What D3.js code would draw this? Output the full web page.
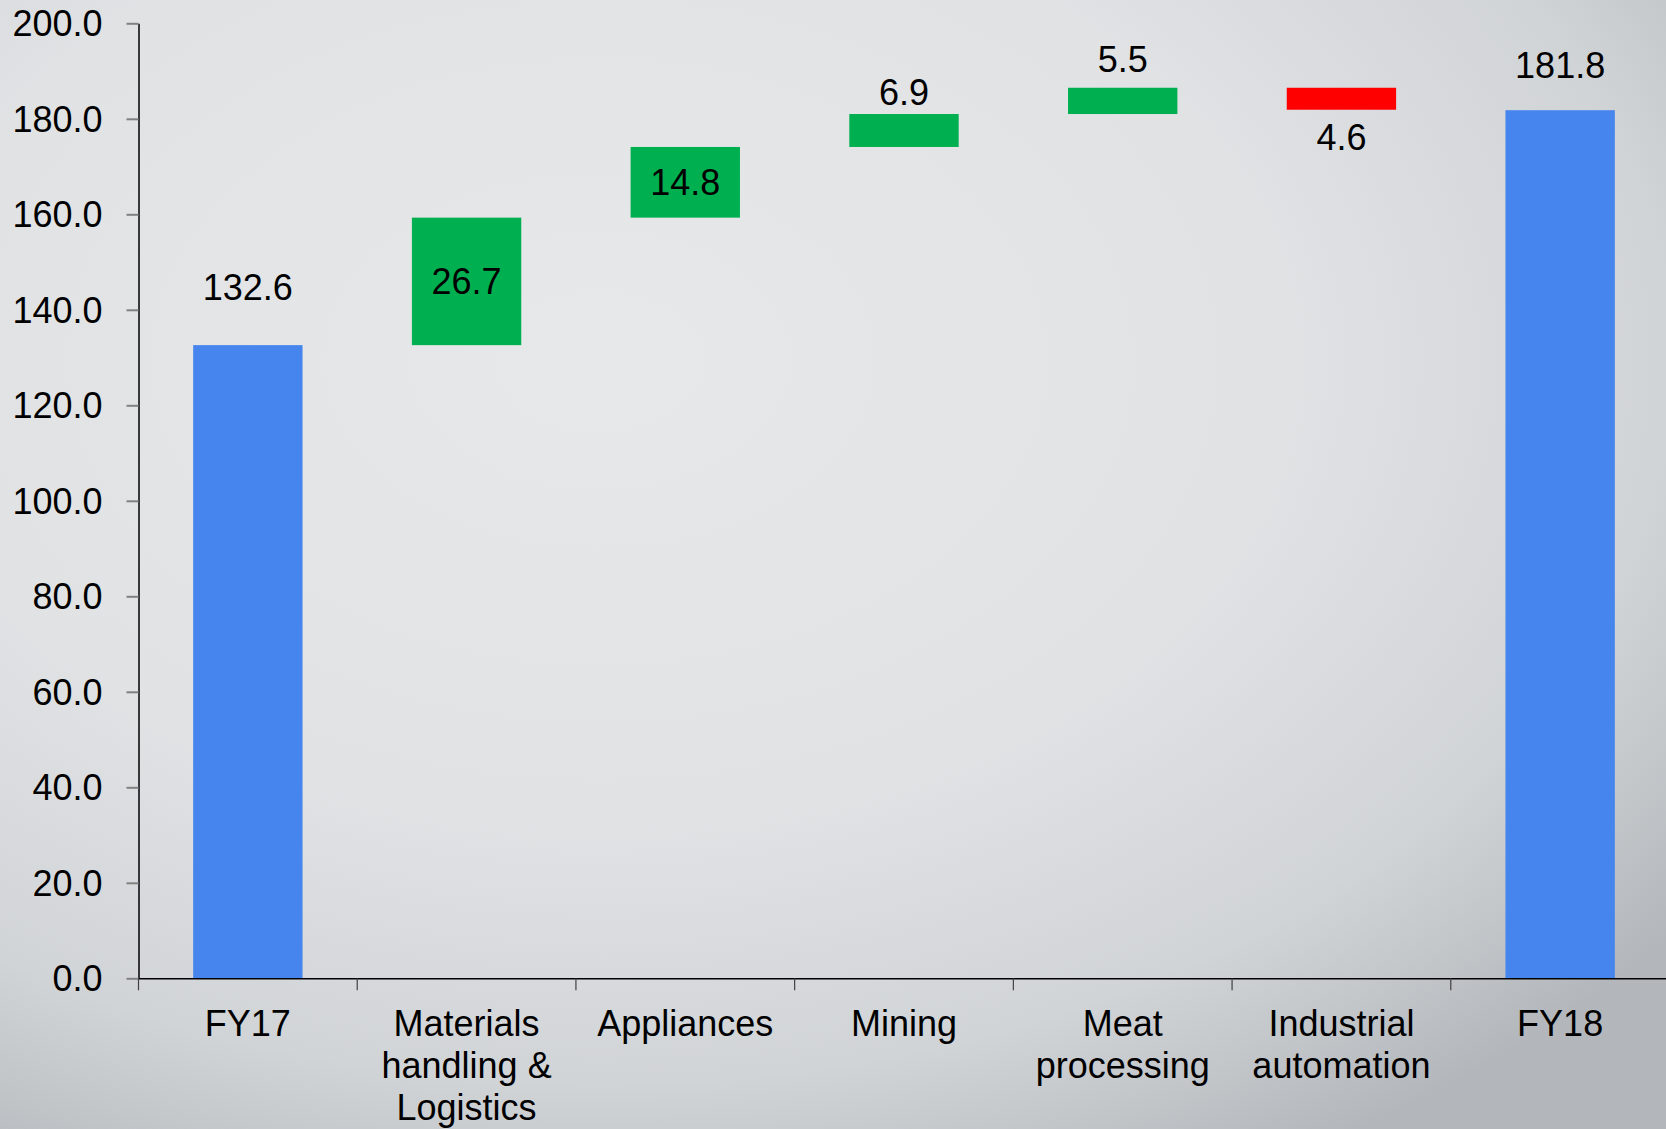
<!DOCTYPE html>
<html>
<head>
<meta charset="utf-8">
<script src="https://cdn.jsdelivr.net/npm/d3@7"></script>
<style>
  html, body { margin: 0; padding: 0; background: #e2e4e5; }
  svg { display: block; font-family: "Liberation Sans", Arial, sans-serif; }
</style>
</head>
<body>
<svg id="chart" width="1666" height="1129"></svg>
<script>
// ---- data ----
const categories = ["FY17", "Materials handling & Logistics", "Appliances", "Mining", "Meat processing", "Industrial automation", "FY18"];
const categoryLines = [["FY17"], ["Materials", "handling &", "Logistics"], ["Appliances"], ["Mining"], ["Meat", "processing"], ["Industrial", "automation"], ["FY18"]];
const values = [132.6, 26.7, 14.8, 6.9, 5.5, -4.6, 181.8];
const kinds = ["total", "increase", "increase", "increase", "increase", "decrease", "total"];
const yTickValues = [0, 20, 40, 60, 80, 100, 120, 140, 160, 180, 200];

// ---- label layout (relative offsets, px) ----
const labelPlacement = ["above", "inside", "inside", "above", "above", "below", "above"];
const labelGap = [45, 0, 0, 9, 16, 40, 32];

const colors = { total: "#4684EE", increase: "#00B050", decrease: "#FF0000" };
const FONT = 36;

// ---- waterfall computation ----
let running = 0;
const bars = categories.map((c, i) => {
  let lo, hi;
  if (kinds[i] === "total") { lo = 0; hi = values[i]; running = values[i]; }
  else { const start = running; running += values[i]; lo = Math.min(start, running); hi = Math.max(start, running); }
  return { cat: c, lines: categoryLines[i], value: values[i], kind: kinds[i], lo, hi, place: labelPlacement[i], gap: labelGap[i] };
});

const W = 1666, H = 1129;
const svg = d3.select("#chart");

// background gradient
const defs = svg.append("defs");
const grad = defs.append("radialGradient").attr("id", "bg")
  .attr("cx", "36%").attr("cy", "32%").attr("r", "82%")
  .attr("fx", "36%").attr("fy", "32%");
grad.append("stop").attr("offset", "0%").attr("stop-color", "#e6e8e9");
grad.append("stop").attr("offset", "50%").attr("stop-color", "#e0e2e4");
grad.append("stop").attr("offset", "78%").attr("stop-color", "#d1d4d7");
grad.append("stop").attr("offset", "100%").attr("stop-color", "#b3b7bb");
svg.append("rect").attr("width", W).attr("height", H).attr("fill", "url(#bg)");

// scales
const x = d3.scaleBand().domain(categories).range([138.5, 1669.5]).paddingInner(0.5).paddingOuter(0.25);
const y = d3.scaleLinear().domain([0, 200]).range([978.3, 23.3]);

// bars
svg.append("g").selectAll("rect").data(bars).join("rect")
  .attr("x", d => x(d.cat))
  .attr("width", x.bandwidth())
  .attr("y", d => y(d.hi))
  .attr("height", d => y(d.lo) - y(d.hi))
  .attr("fill", d => colors[d.kind]);

// data labels
svg.append("g").selectAll("text").data(bars).join("text")
  .attr("x", d => x(d.cat) + x.bandwidth() / 2)
  .attr("y", d => {
    if (d.place === "inside") return (y(d.hi) + y(d.lo)) / 2 + 13;
    if (d.place === "below") return y(d.lo) + d.gap;
    return y(d.hi) - d.gap;
  })
  .attr("text-anchor", "middle")
  .attr("font-size", FONT)
  .attr("fill", "#000")
  .text(d => Math.abs(d.value).toFixed(1));

// y axis
const yAxis = svg.append("g").attr("transform", "translate(138.5,0)")
  .call(d3.axisLeft(y).tickValues(yTickValues).tickSize(12).tickSizeOuter(0).tickPadding(24).tickFormat(d3.format(".1f")));
yAxis.select(".domain").attr("stroke", "#000").attr("stroke-width", 1.5);
yAxis.selectAll(".tick line").attr("stroke", "#808080").attr("stroke-width", 2);
yAxis.selectAll(".tick text").attr("font-size", FONT).attr("fill", "#000")
  .attr("font-family", "'Liberation Sans', Arial, sans-serif").attr("dy", "0.35em");

// x axis
const xAxis = svg.append("g").attr("transform", `translate(0,${y(0)})`)
  .call(d3.axisBottom(x).tickSize(0).tickSizeOuter(0).tickFormat(""));
xAxis.select(".domain").attr("stroke", "#000").attr("stroke-width", 1.5);

// category boundary ticks
const boundaries = d3.range(categories.length + 1).map(i => x.range()[0] + i * x.step());
xAxis.append("g").selectAll("line").data(boundaries).join("line")
  .attr("x1", d => d).attr("x2", d => d)
  .attr("y1", 0).attr("y2", 12)
  .attr("stroke", "#404040").attr("stroke-width", 1.2);

// category labels
const catText = xAxis.append("g").selectAll("text").data(bars).join("text")
  .attr("x", d => x(d.cat) + x.bandwidth() / 2)
  .attr("y", 58)
  .attr("text-anchor", "middle")
  .attr("font-size", FONT)
  .attr("fill", "#000");
catText.selectAll("tspan").data(d => d.lines.map(l => ({ l, cx: x(d.cat) + x.bandwidth() / 2 }))).join("tspan")
  .attr("x", d => d.cx)
  .attr("dy", (d, i) => i === 0 ? 0 : 42)
  .text(d => d.l);
</script>
</body>
</html>
